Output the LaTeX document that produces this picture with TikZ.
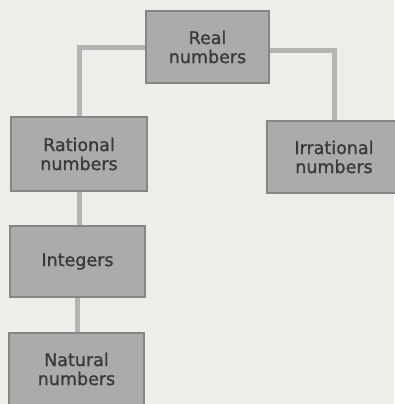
\documentclass[tikz,border=0pt]{standalone}
\usepackage{fontspec}
\setmainfont{DejaVu Sans}
\newfontfamily\boxfont[FakeBold=1.2]{DejaVu Sans}
\definecolor{pagebg}{HTML}{EDEDEA}
\definecolor{boxfill}{HTML}{ABABAA}
\definecolor{boxline}{HTML}{858585}
\definecolor{boxtext}{HTML}{3A3A3A}
\definecolor{linkgray}{HTML}{B4B4B2}

\begin{document}
\begin{tikzpicture}[x=1pt, y=-1pt,
  numbox/.style={draw=boxline, fill=boxfill, line width=1.3pt, align=center,
    text=boxtext, inner sep=0pt, font=\boxfont\fontsize{17.5}{19}\selectfont},
  link/.style={draw=linkgray, line width=5pt}]
  \fill[pagebg] (0,0) rectangle (394,404);
  \useasboundingbox (0,0) rectangle (394,404);

  \node[numbox, minimum width=123, minimum height=72] (real)       at (207.5,47)  {Real\\numbers};
  \node[numbox, minimum width=136, minimum height=74] (rational)   at (79,154)    {Rational\\numbers};
  \node[numbox, minimum width=134, minimum height=72] (irrational) at (334,157)   {Irrational\\numbers};
  \node[numbox, minimum width=135, minimum height=71] (integers)   at (77.5,261.5){Integers};
  \node[numbox, minimum width=135, minimum height=72] (natural)    at (76.5,369)  {Natural\\numbers};

  \draw[link] ([yshift=-1pt]real.west) -| (rational.north);
  \draw[link] ([yshift=-4pt]real.east) -| (irrational.north);
  \draw[link] (rational.south) -- (rational.south |- integers.north);
  \draw[link] (integers.south) -- (integers.south |- natural.north);
\end{tikzpicture}
\end{document}
